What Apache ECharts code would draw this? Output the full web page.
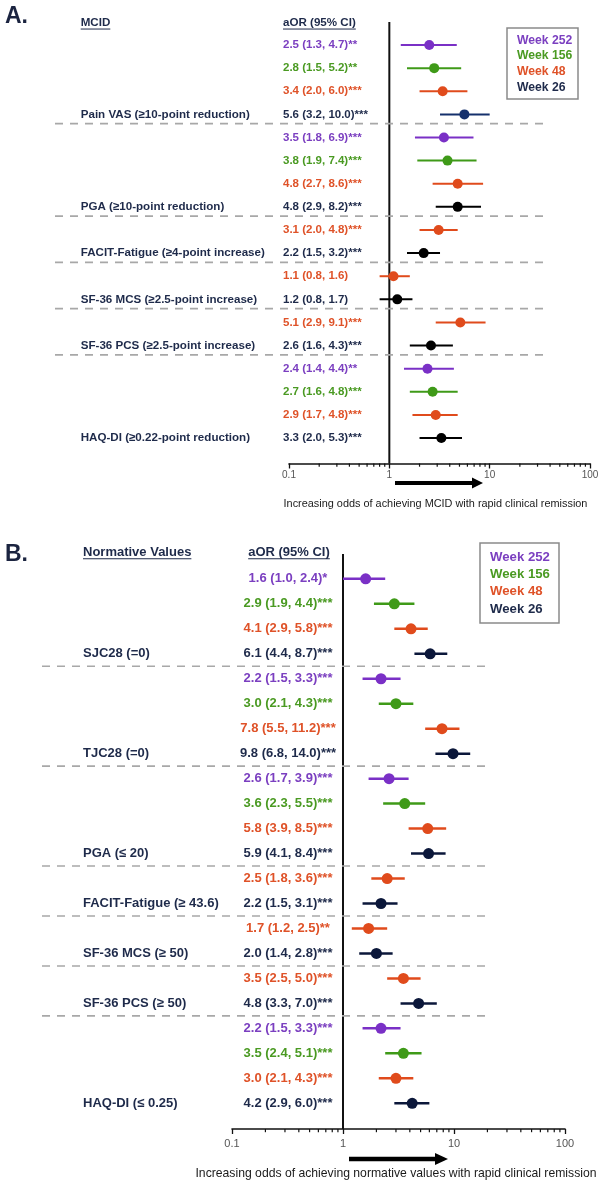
<!DOCTYPE html>
<html><head><meta charset="utf-8">
<script src="https://cdn.jsdelivr.net/npm/echarts@6/dist/echarts.min.js"></script>
<style>html,body{margin:0;padding:0;background:#fff}#c{width:609px;height:1181px}</style>
</head><body><div id="c"></div>
<script>
// ---------------- Panel A (MCID) ----------------
const groupsA = ['Pain VAS (≥10-point reduction)', 'PGA (≥10-point reduction)', 'FACIT-Fatigue (≥4-point increase)',
  'SF-36 MCS (≥2.5-point increase)', 'SF-36 PCS (≥2.5-point increase)', 'HAQ-DI (≥0.22-point reduction)'];
const groupSizeA = [4, 4, 2, 2, 2, 4];
const weeksA = [252, 156, 48, 26, 252, 156, 48, 26, 48, 26, 48, 26, 48, 26, 252, 156, 48, 26];
const orA = [2.5, 2.8, 3.4, 5.6, 3.5, 3.8, 4.8, 4.8, 3.1, 2.2, 1.1, 1.2, 5.1, 2.6, 2.4, 2.7, 2.9, 3.3];
const loA = [1.3, 1.5, 2.0, 3.2, 1.8, 1.9, 2.7, 2.9, 2.0, 1.5, 0.8, 0.8, 2.9, 1.6, 1.4, 1.6, 1.7, 2.0];
const hiA = [4.7, 5.2, 6.0, 10.0, 6.9, 7.4, 8.6, 8.2, 4.8, 3.2, 1.6, 1.7, 9.1, 4.3, 4.4, 4.8, 4.8, 5.3];
const sigA = ['**', '**', '***', '***', '***', '***', '***', '***', '***', '***', '', '', '***', '***', '**', '***', '***', '***'];

// ---------------- Panel B (Normative values) ----------------
const groupsB = ['SJC28 (=0)', 'TJC28 (=0)', 'PGA (≤ 20)', 'FACIT-Fatigue (≥ 43.6)', 'SF-36 MCS (≥ 50)', 'SF-36 PCS (≥ 50)', 'HAQ-DI (≤ 0.25)'];
const groupSizeB = [4, 4, 4, 2, 2, 2, 4];
const weeksB = [252, 156, 48, 26, 252, 156, 48, 26, 252, 156, 48, 26, 48, 26, 48, 26, 48, 26, 252, 156, 48, 26];
const orB = [1.6, 2.9, 4.1, 6.1, 2.2, 3.0, 7.8, 9.8, 2.6, 3.6, 5.8, 5.9, 2.5, 2.2, 1.7, 2.0, 3.5, 4.8, 2.2, 3.5, 3.0, 4.2];
const loB = [1.0, 1.9, 2.9, 4.4, 1.5, 2.1, 5.5, 6.8, 1.7, 2.3, 3.9, 4.1, 1.8, 1.5, 1.2, 1.4, 2.5, 3.3, 1.5, 2.4, 2.1, 2.9];
const hiB = [2.4, 4.4, 5.8, 8.7, 3.3, 4.3, 11.2, 14.0, 3.9, 5.5, 8.5, 8.4, 3.6, 3.1, 2.5, 2.8, 5.0, 7.0, 3.3, 5.1, 4.3, 6.0];
const sigB = ['*', '***', '***', '***', '***', '***', '***', '***', '***', '***', '***', '***', '***', '***', '**', '***', '***', '***', '***', '***', '***', '***'];

const legendWeeks = [252, 156, 48, 26];
const legendLabels = ['Week 252', 'Week 156', 'Week 48', 'Week 26'];

// ---------------- styles ----------------
const FONT = '"Liberation Sans", Arial, Helvetica, sans-serif';
const NAVY = '#1e2a4a';
const textColor = {252: '#7b3fc0', 156: '#4a9a22', 48: '#df5228', 26: NAVY};
const markerColor = {252: '#7a30c6', 156: '#3f9a18', 48: '#e04b1c'};

const panels = [
  {
    or: orA, lo: loA, hi: hiA, sig: sigA, weeks: weeksA, groups: groupsA, sizes: groupSizeA,
    w26: ['#15306c', '#000', '#000', '#000', '#000', '#000'],
    left: 289, right: 590, top: 21.9, rowH: 23.12, yMin: -1, yMax: 18.1,
    labelX: 80.7, labelFont: 11.6, orX: 283, orAlign: 'left', orFont: 11.5,
    sepX0: 55, sepX1: 543, sepOff: 0.4, r: 5, lw: 2,
    tickFont: 10, tickMargin: 7, title: 'Increasing odds of achieving MCID with rapid clinical remission',
    titleFont: 10.9, titleGap: 35, titleShift: 8,
    letter: 'A.', letterY: 17, header1: 'MCID', h1X: 80.7, hY: 23, header2: 'aOR (95% CI)', h2X: 283, h2Align: 'left', hFont: 11.6,
    legend: {x: 507, y: 28, w: 71, h: 71, tx: 517, ty0: 40.5, dy: 15.6, font: 12.2},
    arrow: {x0: 395, x1: 483, y: 483, head: 11, hh: 5.5, w: 4}
  },
  {
    or: orB, lo: loB, hi: hiB, sig: sigB, weeks: weeksB, groups: groupsB, sizes: groupSizeB,
    w26: ['#0b173a', '#0b173a', '#0b173a', '#0b173a', '#0b173a', '#0b173a', '#0b173a'],
    left: 232, right: 565, top: 553.9, rowH: 25.1, yMin: -1, yMax: 22.03,
    labelX: 83, labelFont: 13, orX: 288, orAlign: 'center', orFont: 13,
    sepX0: 42, sepX1: 488, sepOff: 0.5, r: 5.5, lw: 2.5,
    tickFont: 11, tickMargin: 9, title: 'Increasing odds of achieving normative values with rapid clinical remission',
    titleFont: 12.2, titleGap: 39, titleShift: 5,
    letter: 'B.', letterY: 555, header1: 'Normative Values', h1X: 83, hY: 552, header2: 'aOR (95% CI)', h2X: 289, h2Align: 'center', hFont: 13,
    legend: {x: 480, y: 543, w: 79, h: 80, tx: 490, ty0: 557, dy: 17.4, font: 13.2},
    arrow: {x0: 349, x1: 448, y: 1159, head: 13, hh: 6, w: 4.5}
  }
];

const measureCtx = document.createElement('canvas').getContext('2d');
function textWidth(str, font) { measureCtx.font = font; return measureCtx.measureText(str).width; }

const grids = [], xAxes = [], yAxes = [], series = [], graphics = [];

panels.forEach((P, pi) => {
  grids.push({left: P.left, width: P.right - P.left, top: P.top, height: (P.yMax - P.yMin) * P.rowH});
  xAxes.push({
    type: 'log', logBase: 10, min: 0.1, max: 100, gridIndex: pi, position: 'bottom',
    name: P.title, nameLocation: 'middle', nameGap: P.titleGap,
    nameTextStyle: {fontFamily: FONT, fontSize: P.titleFont, color: '#1a1a1a', padding: [0, P.titleShift, 0, 0]},
    axisLine: {show: true, onZero: false, lineStyle: {color: '#111', width: 1.6}},
    axisTick: {show: true, length: 5, inside: false, lineStyle: {color: '#111', width: 1.3}},
    axisLabel: {fontFamily: FONT, fontSize: P.tickFont, color: '#555', margin: P.tickMargin,
      formatter: v => String(Math.round(v * 10) / 10)},
    splitLine: {show: false}, minorTick: {show: false}
  });
  yAxes.push({type: 'value', gridIndex: pi, inverse: true, min: P.yMin, max: P.yMax, show: false});

  const labelAt = {};
  const groupOf = [];
  let acc = 0;
  P.sizes.forEach((s, g) => { for (let k = 0; k < s; k++) groupOf.push(g); acc += s; labelAt[acc - 1] = g; });
  const sepRows = [];
  acc = 0;
  P.sizes.forEach((s, g) => { acc += s; if (g < P.sizes.length - 1) sepRows.push(acc - 1); });

  // frame: reference line, separators, minor ticks
  series.push({
    type: 'custom', xAxisIndex: pi, yAxisIndex: pi, silent: true, z: 1,
    data: [[1, 0]], encode: {x: 0, y: 1},
    renderItem: (params, api) => {
      const ch = [];
      const top = api.coord([1, P.yMin]), bot = api.coord([1, P.yMax]);
      ch.push({type: 'line', shape: {x1: top[0], y1: top[1], x2: bot[0], y2: bot[1]},
        style: {stroke: '#111', lineWidth: 2}});
      sepRows.forEach(r => {
        const y = api.coord([1, r + P.sepOff])[1];
        ch.push({type: 'line', shape: {x1: P.sepX0, y1: y, x2: P.sepX1, y2: y},
          style: {stroke: '#a8a8a8', lineWidth: 1.6, lineDash: [8, 7]}});
      });
      for (let d = -1; d <= 1; d++) {
        for (let k = 2; k <= 9; k++) {
          const p = api.coord([k * Math.pow(10, d), P.yMax]);
          ch.push({type: 'line', shape: {x1: p[0], y1: p[1], x2: p[0], y2: p[1] + 3.2},
            style: {stroke: '#111', lineWidth: 1.2}});
        }
      }
      return {type: 'group', children: ch};
    }
  });

  // forest rows
  const rows = P.or.map((v, i) => [i, v, P.lo[i], P.hi[i]]);
  series.push({
    type: 'custom', xAxisIndex: pi, yAxisIndex: pi, silent: true, z: 3,
    data: rows, encode: {x: [1, 2, 3], y: 0},
    renderItem: (params, api) => {
      const i = params.dataIndex;
      const idx = api.value(0);
      const est = api.value(1), lo = api.value(2), hi = api.value(3);
      const w = P.weeks[i];
      const col = w === 26 ? P.w26[groupOf[i]] : markerColor[w];
      const pL = api.coord([lo, idx]), pH = api.coord([hi, idx]), pE = api.coord([est, idx]);
      const ch = [
        {type: 'line', shape: {x1: pL[0], y1: pL[1], x2: pH[0], y2: pH[1]}, style: {stroke: col, lineWidth: P.lw}},
        {type: 'circle', shape: {cx: pE[0], cy: pE[1], r: P.r}, style: {fill: col}}
      ];
      const txt = est.toFixed(1) + ' (' + lo.toFixed(1) + ', ' + hi.toFixed(1) + ')' + P.sig[i];
      ch.push({type: 'text', style: {text: txt, x: P.orX, y: pE[1], fill: textColor[w],
        font: 'bold ' + P.orFont + 'px ' + FONT, align: P.orAlign, textAlign: P.orAlign,
        verticalAlign: 'middle', textVerticalAlign: 'middle'}});
      if (labelAt[i] !== undefined) {
        ch.push({type: 'text', style: {text: P.groups[labelAt[i]], x: P.labelX, y: pE[1], fill: NAVY,
          font: 'bold ' + P.labelFont + 'px ' + FONT, align: 'left', textAlign: 'left',
          verticalAlign: 'middle', textVerticalAlign: 'middle'}});
      }
      return {type: 'group', children: ch};
    }
  });

  // panel letter & headers
  const hFont = 'bold ' + P.hFont + 'px ' + FONT;
  graphics.push({type: 'text', x: 5, y: P.letterY,
    style: {text: P.letter, font: 'bold 23px ' + FONT, fill: '#1b2440', textVerticalAlign: 'middle', verticalAlign: 'middle'}});
  [[P.header1, P.h1X, 'left'], [P.header2, P.h2X, P.h2Align]].forEach(([t, x, al]) => {
    const tw = textWidth(t, hFont);
    const x0 = al === 'center' ? x - tw / 2 : x;
    graphics.push({type: 'text', x: x0, y: P.hY,
      style: {text: t, font: hFont, fill: NAVY, textVerticalAlign: 'middle', verticalAlign: 'middle'}});
    graphics.push({type: 'line', shape: {x1: x0, y1: P.hY + P.hFont * 0.52, x2: x0 + tw, y2: P.hY + P.hFont * 0.52},
      style: {stroke: NAVY, lineWidth: 1}});
  });

  // legend
  const L = P.legend;
  graphics.push({type: 'rect', shape: {x: L.x, y: L.y, width: L.w, height: L.h},
    style: {fill: '#fff', stroke: '#8a8a8a', lineWidth: 1.5}});
  legendWeeks.forEach((w, k) => {
    graphics.push({type: 'text', x: L.tx, y: L.ty0 + k * L.dy,
      style: {text: legendLabels[k], font: 'bold ' + L.font + 'px ' + FONT, fill: textColor[w],
        textVerticalAlign: 'middle', verticalAlign: 'middle'}});
  });

  // arrow
  const A = P.arrow;
  graphics.push({type: 'line', shape: {x1: A.x0, y1: A.y, x2: A.x1 - A.head + 1, y2: A.y},
    style: {stroke: '#000', lineWidth: A.w}});
  graphics.push({type: 'polygon', shape: {points: [[A.x1 - A.head, A.y - A.hh], [A.x1, A.y], [A.x1 - A.head, A.y + A.hh]]},
    style: {fill: '#000'}});
});

const chart = echarts.init(document.getElementById('c'), null, {renderer: 'canvas'});
chart.setOption({
  animation: false,
  backgroundColor: '#fff',
  grid: grids, xAxis: xAxes, yAxis: yAxes, series: series, graphic: graphics
});
</script></body></html>
